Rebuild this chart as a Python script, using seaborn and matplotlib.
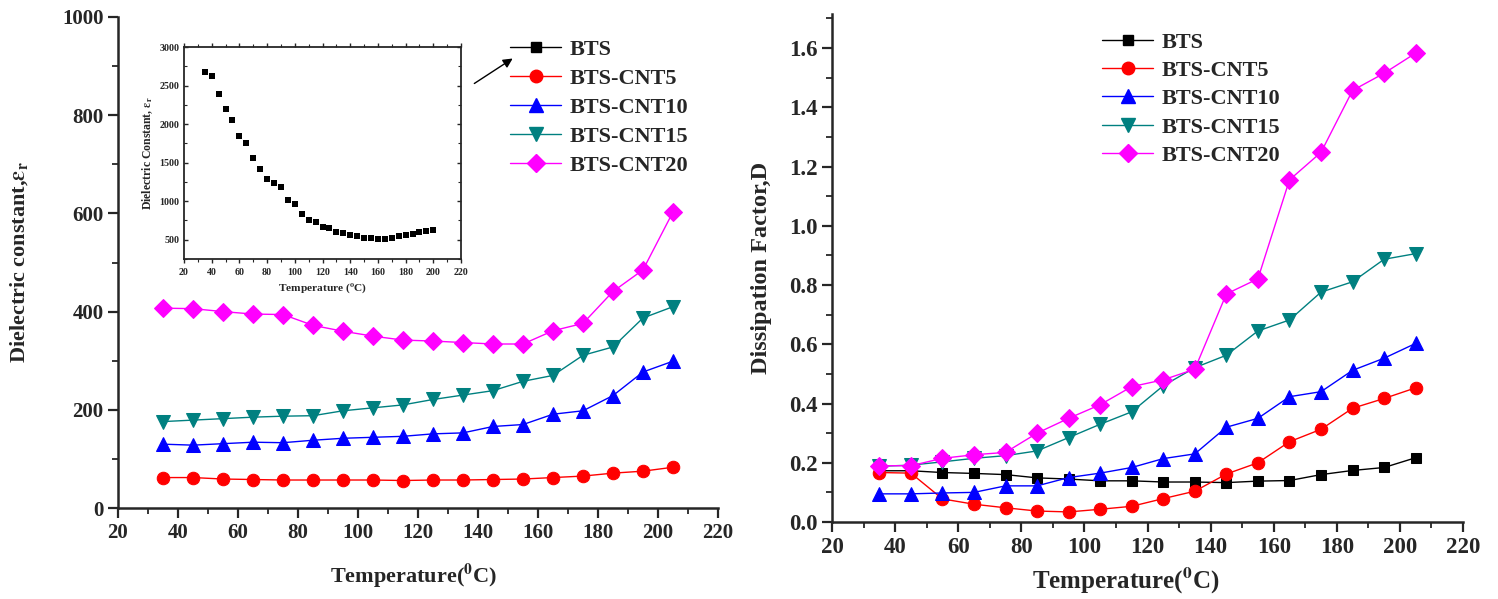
import numpy as np
import pandas as pd
import matplotlib
matplotlib.use("Agg")
import matplotlib.pyplot as plt
from matplotlib.lines import Line2D
from matplotlib.ticker import MultipleLocator
import seaborn as sns

# ---------------- data ----------------
temps = [35, 45, 55, 65, 75, 85, 95, 105, 115, 125, 135, 145, 155, 165, 175, 185, 195, 205]

eps_cnt5 = [62, 62, 59, 58, 57, 57, 57, 57, 56, 57, 57, 58, 59, 62, 65, 71, 75, 83]
eps_cnt10 = [130, 128, 131, 134, 133, 138, 142, 144, 146, 151, 153, 166, 170, 191, 198, 229, 277, 299]
eps_cnt15 = [176, 179, 182, 185, 187, 188, 198, 204, 210, 221, 230, 239, 258, 270, 311, 328, 387, 410]
eps_cnt20 = [407, 406, 400, 395, 394, 372, 360, 350, 342, 340, 337, 334, 334, 361, 376, 441, 485, 603]

inset_temps = [35, 40, 45, 50, 55, 60, 65, 70, 75, 80, 85, 90, 95, 100, 105, 110, 115, 120,
               125, 130, 135, 140, 145, 150, 155, 160, 165, 170, 175, 180, 185, 190, 195, 200]
inset_bts = [2680, 2620, 2390, 2200, 2050, 1840, 1750, 1560, 1420, 1290, 1240, 1180, 1010, 960,
             830, 760, 730, 670, 650, 600, 590, 555, 550, 525, 520, 515, 515, 525, 550, 565,
             580, 600, 615, 625]

d_bts = [0.173, 0.173, 0.167, 0.164, 0.160, 0.149, 0.145, 0.139, 0.139, 0.135, 0.135, 0.133,
         0.138, 0.140, 0.160, 0.174, 0.184, 0.217]
d_cnt5 = [0.167, 0.165, 0.078, 0.060, 0.048, 0.037, 0.034, 0.043, 0.053, 0.079, 0.104, 0.162,
          0.200, 0.271, 0.313, 0.384, 0.417, 0.453]
d_cnt10 = [0.095, 0.095, 0.098, 0.100, 0.122, 0.122, 0.150, 0.165, 0.184, 0.214, 0.230, 0.320,
           0.350, 0.423, 0.440, 0.512, 0.553, 0.603]
d_cnt15 = [0.188, 0.192, 0.203, 0.215, 0.224, 0.240, 0.285, 0.330, 0.372, 0.460, 0.521, 0.563,
           0.645, 0.682, 0.776, 0.811, 0.887, 0.906]
d_cnt20 = [0.190, 0.190, 0.215, 0.227, 0.235, 0.300, 0.350, 0.396, 0.457, 0.480, 0.516, 0.770,
           0.821, 1.155, 1.248, 1.457, 1.515, 1.583]

labels = ["BTS", "BTS-CNT5", "BTS-CNT10", "BTS-CNT15", "BTS-CNT20"]
colors = ["#000000", "#FF0000", "#0000FF", "#008080", "#FF00FF"]
markers = ["s", "o", "^", "v", "D"]
msizes = [7.5, 9, 10, 10, 9]

# ---------------- style ----------------
sns.set_style("ticks")
plt.rcParams["font.family"] = ["Liberation Serif", "DejaVu Serif"]
plt.rcParams["font.weight"] = "bold"
plt.rcParams["axes.labelweight"] = "bold"
plt.rcParams["mathtext.fontset"] = "stix"
plt.rcParams["axes.linewidth"] = 1.8

fig = plt.figure(figsize=(14.98, 5.99), dpi=100)
W, H = 1498, 599

def fax(l, t, r, b):
    return fig.add_axes([l / W, 1 - b / H, (r - l) / W, (b - t) / H])

axL = fax(118, 17, 718, 508)
axR = fax(832, 14, 1463, 522)
axI = fax(184, 47, 461, 259)

def style_main(ax, lsize):
    sns.despine(ax=ax)
    ax.tick_params(axis="both", which="major", direction="out", length=7, width=1.6,
                   labelsize=lsize)
    ax.tick_params(axis="both", which="minor", direction="out", length=4, width=1.3)
    for t in ax.get_xticklabels() + ax.get_yticklabels():
        t.set_fontweight("bold")
    ax.set_facecolor("white")

# ---------------- left main ----------------
eps_series = [eps_cnt5, eps_cnt10, eps_cnt15, eps_cnt20]
for vals, c, m, ms, lab in zip(eps_series, colors[1:], markers[1:], msizes[1:], labels[1:]):
    df = pd.DataFrame({"T": temps, "v": vals})
    sns.lineplot(data=df, x="T", y="v", ax=axL, color=c, marker=m, markersize=ms,
                 markeredgecolor=c, linewidth=1.0, label=lab, legend=False)
axL.set_xlim(20, 220)
axL.set_ylim(0, 1000)
axL.xaxis.set_major_locator(MultipleLocator(20))
axL.xaxis.set_minor_locator(MultipleLocator(10))
axL.yaxis.set_major_locator(MultipleLocator(200))
axL.yaxis.set_minor_locator(MultipleLocator(100))
style_main(axL, 15)
axL.set_xlabel(r"Temperature($^{\mathbf{0}}$C)", fontsize=16, fontweight="bold")
axL.xaxis.set_label_coords(0.493, -0.110)
axL.set_ylabel(r"Dielectric constant,$\boldsymbol{\varepsilon}_{\mathbf{r}}$", fontsize=16,
               fontweight="bold")
axL.yaxis.set_label_coords(-0.147, 0.5)

handles = [Line2D([], [], color=c, marker=m, markersize=ms, markeredgecolor=c, linewidth=1.0)
           for c, m, ms in zip(colors, markers, msizes)]
fig.legend(handles, labels, loc="upper left", bbox_to_anchor=(490 / W, 1 - 19 / H),
           frameon=False, prop={"family": "Liberation Serif", "weight": "bold", "size": 16},
           handlelength=2.3, labelspacing=0.38, handletextpad=0.4)
fig.add_artist(matplotlib.patches.FancyArrowPatch(
    (472 / W, 1 - 85 / H), (515 / W, 1 - 57 / H), transform=fig.transFigure,
    arrowstyle="-|>", mutation_scale=14, color="black", linewidth=1.0))

# ---------------- inset ----------------
dfi = pd.DataFrame({"T": inset_temps, "v": inset_bts})
sns.scatterplot(data=dfi, x="T", y="v", ax=axI, color="black", marker="s", s=24,
                edgecolor="black", linewidth=0)
axI.set_xlim(20, 220)
axI.set_ylim(250, 3000)
axI.xaxis.set_major_locator(MultipleLocator(20))
axI.xaxis.set_minor_locator(MultipleLocator(10))
axI.yaxis.set_major_locator(MultipleLocator(500))
axI.yaxis.set_minor_locator(MultipleLocator(250))
for s in axI.spines.values():
    s.set_linewidth(1.3)
axI.tick_params(axis="both", which="major", direction="out", length=3, width=1.0, labelsize=7.2)
axI.tick_params(axis="both", which="minor", direction="out", length=2, width=0.8)
axI.tick_params(top=True, right=True, which="both", direction="in")
axI.tick_params(axis="x", which="both", bottom=True, direction="out")
axI.tick_params(axis="y", which="both", left=True)
for t in axI.get_xticklabels() + axI.get_yticklabels():
    t.set_fontweight("bold")
axI.set_xlabel(r"Temperature ($^{\mathbf{o}}$C)", fontsize=8.2, fontweight="bold", labelpad=3)
axI.set_ylabel(r"Dielectric Constant, $\boldsymbol{\varepsilon}_{\mathbf{r}}$", fontsize=8.5,
               fontweight="bold", labelpad=3)

# ---------------- right ----------------
d_series = [d_bts, d_cnt5, d_cnt10, d_cnt15, d_cnt20]
for vals, c, m, ms, lab in zip(d_series, colors, markers, msizes, labels):
    df = pd.DataFrame({"T": temps, "v": vals})
    sns.lineplot(data=df, x="T", y="v", ax=axR, color=c, marker=m, markersize=ms,
                 markeredgecolor=c, linewidth=1.0, label=lab, legend=False)
axR.set_xlim(20, 220)
axR.set_ylim(0, 1.715)
axR.xaxis.set_major_locator(MultipleLocator(20))
axR.xaxis.set_minor_locator(MultipleLocator(10))
axR.yaxis.set_major_locator(MultipleLocator(0.2))
axR.yaxis.set_minor_locator(MultipleLocator(0.1))
axR.yaxis.set_major_formatter(matplotlib.ticker.FormatStrFormatter("%.1f"))
style_main(axR, 16.5)
axR.set_xlabel(r"Temperature($^{\mathbf{0}}$C)", fontsize=18, fontweight="bold")
axR.xaxis.set_label_coords(0.465, -0.085)
axR.set_ylabel("Dissipation Factor,D", fontsize=17.5, fontweight="bold")
axR.yaxis.set_label_coords(-0.095, 0.5)
fig.legend(handles, labels, loc="upper left", bbox_to_anchor=(1082 / W, 1 - 12 / H),
           frameon=False, prop={"family": "Liberation Serif", "weight": "bold", "size": 16},
           handlelength=2.3, labelspacing=0.35, handletextpad=0.4)

fig.savefig("out.png", dpi=100, facecolor="white")
